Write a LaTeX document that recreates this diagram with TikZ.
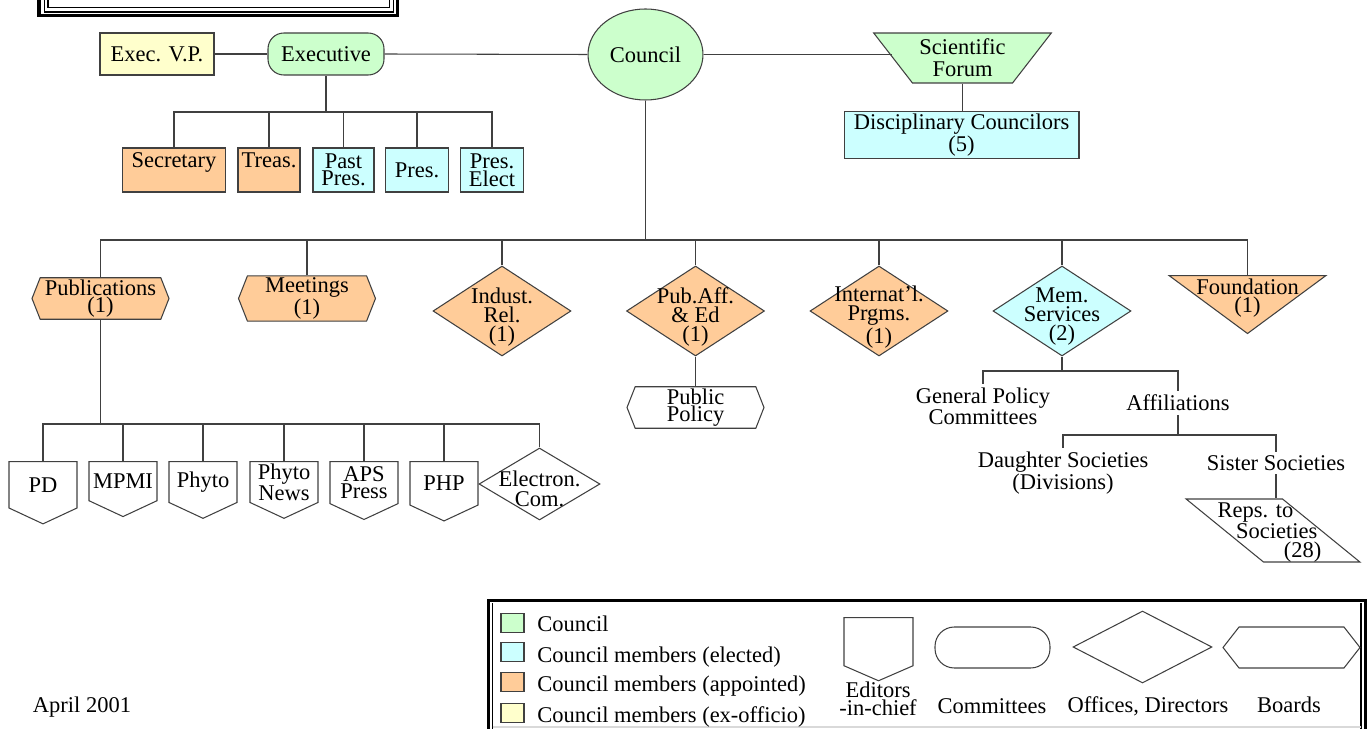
\documentclass[tikz,border=0pt]{standalone}
\usepackage{fontspec}
\setmainfont{Liberation Serif}
\usetikzlibrary{shapes.geometric,shapes.symbols,shapes.misc}
\definecolor{cgreen}{HTML}{CCFFCC}
\definecolor{cblue}{HTML}{CCFFFF}
\definecolor{corange}{HTML}{FFCC99}
\definecolor{cyellow}{HTML}{FFFFCC}
\definecolor{edge}{HTML}{404040}

\begin{document}
\begin{tikzpicture}[x=0.02cm, y=-0.02cm,
    font=\fontsize{12.8}{10}\selectfont,
    orgbox/.style={draw=edge, line width=0.6pt, rectangle, inner sep=1pt,
                   minimum height=0.88cm, align=center},
    hightext/.style={text depth=11pt},
    commbox/.style={draw=edge, line width=0.6pt, rounded corners=9pt,
                    minimum width=2.32cm, minimum height=0.84cm, align=center},
    boardbox/.style={draw=edge, line width=0.6pt, signal,
                     signal to=east and west, signal pointer angle=137,
                     inner sep=1pt, minimum width=2.74cm, minimum height=0.82cm,
                     align=center},
    officebox/.style={draw=edge, line width=0.6pt, diamond, aspect=1.53,
                      inner sep=0pt, minimum width=2.76cm, minimum height=1.8cm},
    editorbox/.style={draw=edge, line width=0.6pt, signal, signal to=south,
                      signal pointer angle=130, inner sep=1pt,
                      minimum width=1.36cm, minimum height=1.08cm, align=center},
    legsq/.style={draw=edge, line width=0.6pt, inner sep=0pt,
                  minimum width=0.46cm, minimum height=0.38cm},
    txt/.style={inner sep=2pt, align=center},
    dtxt/.style={inner sep=0pt, align=center, font=\fontsize{12.8}{10.8}\selectfont},
    conn/.style={draw=edge, line width=0.6pt}]

  \useasboundingbox (0,0) rectangle (1372,729);
  \clip (0,0) rectangle (1372,729);

  %% Title frame (cut off at the top)
  \draw[line width=2pt] (39.2,-10) |- (397.5,15.5) -- (397.5,-10);
  \draw[line width=0.6pt] (44.6,-10) |- (393.5,12) -- (393.5,-10);
  \draw[line width=0.6pt] (48,-10) |- (389.5,7.5) -- (389.5,-10);

  %% Top row
  \node[orgbox, fill=cyellow, minimum width=2.28cm, minimum height=0.84cm]
        (evp) at (157,54) {Exec. V.P.};
  \node[commbox, fill=cgreen] (exec) at (326,54) {Executive};
  \node[draw=edge, line width=0.6pt, ellipse, fill=cgreen, inner sep=0pt,
        minimum width=2.30cm, minimum height=1.82cm]
        (council) at (645.5,54.5) {Council};
  \node[draw=edge, line width=0.6pt, trapezium, shape border rotate=180,
        trapezium left angle=48.7, trapezium right angle=48.7,
        trapezium stretches=true, fill=cgreen, inner sep=0pt,
        minimum width=3.58cm, minimum height=1.0cm, align=center,
        font=\fontsize{12.8}{12.5}\selectfont]
        (forum) at (962.5,58) {Scientific\\Forum};
  \node[orgbox, fill=cblue, minimum width=4.70cm, minimum height=0.92cm]
        (disc) at (961.5,135) {Disciplinary Councilors\\(5)};

  \draw[conn] (evp.east) -- (exec.west);
  \draw[conn] (exec.east) -- (council.west);
  \draw[conn] (council.east) -- (council.east -| forum.west);
  \draw[conn] (forum.south) -- (forum.south |- disc.north);

  %% Executive officers
  \node[orgbox, hightext, fill=corange, minimum width=2.06cm] (secr)  at (174,170)   {Secretary};
  \node[orgbox, hightext, fill=corange, minimum width=1.24cm] (treas) at (269,170)   {Treas.};
  \node[orgbox, fill=cblue, minimum width=1.22cm]             (past)  at (343.5,170) {Past\\Pres.};
  \node[orgbox, fill=cblue, minimum width=1.25cm]             (pres)  at (417,170)   {Pres.};
  \node[orgbox, fill=cblue, minimum width=1.26cm]             (elect) at (492,170)   {Pres.\\Elect};

  \coordinate (eb) at (326,112);
  \draw[conn] (exec.south) -- (eb);
  \foreach \n in {secr,treas,past,pres,elect}
    \draw[conn] (\n.north) |- (eb);

  %% Council branches
  \node[boardbox, fill=corange] (pubs) at (100.5,298.5) {Publications\\(1)};
  \node[boardbox, fill=corange] (meet) at (307,298.5)   {Meetings\\(1)};
  \node[officebox, fill=corange] (indus)  at (502,311)   {};
  \node[officebox, fill=corange] (pubaff) at (695.5,311) {};
  \node[officebox, fill=corange] (intl)   at (879,311)   {};
  \node[officebox, fill=cblue]   (mems)   at (1062,311)  {};
  \node[dtxt] (industxt)  at (502,317)   {Indust.\\Rel.\\(1)};
  \node[dtxt] (pubafftxt) at (695.5,317) {Pub.Aff.\\\& Ed\\(1)};
  \node[dtxt] (intltxt)   at (879,317)   {Internat'l.\\Prgms.\\(1)};
  \node[dtxt] (memstxt)   at (1062,317)  {Mem.\\Services\\(2)};
  \node[draw=edge, line width=0.6pt, isosceles triangle, shape border rotate=270,
        isosceles triangle stretches, fill=corange, inner sep=1pt,
        minimum width=3.14cm, minimum height=1.16cm, anchor=north]
        (found) at (1247.5,275) {};
  \node[txt, inner sep=0pt] (foundtxt) at (1247.5,298) {Foundation\\(1)};

  \coordinate (cb) at (645.5,240);
  \draw[conn] (council.south) -- (cb);
  \foreach \n in {pubs,meet,indus,pubaff,intl,mems,found}
    \draw[conn] (\n.north) |- (cb);

  \node[boardbox, fill=white] (policy) at (695.5,407.5) {Public\\Policy};
  \draw[conn] (pubaff.south) -- (policy.north);

  %% Publications
  \node[editorbox, anchor=north] (pd)    at (43,461)  {PD};
  \node[editorbox, anchor=north] (mpmi)  at (123,461) {MPMI};
  \node[editorbox, anchor=north] (phyto) at (203,461) {Phyto};
  \node[editorbox, anchor=north] (news)  at (284,461) {Phyto\\News};
  \node[editorbox, anchor=north] (aps)   at (364,461) {APS\\Press};
  \node[editorbox, anchor=north] (php)   at (444,461) {PHP};
  \node[officebox, fill=white, aspect=1.68, minimum width=2.42cm,
        minimum height=1.44cm] (elec) at (539.5,484) {};
  \node[dtxt, font=\fontsize{12.8}{11.3}\selectfont] (electxt) at (539.5,489)
        {Electron.\\Com.};

  \coordinate (pb) at (100.5,424);
  \draw[conn] (pubs.south) -- (pb);
  \foreach \n in {pd,mpmi,phyto,news,aps,php,elec}
    \draw[conn] (\n.north) |- (pb);

  %% Member services
  \node[txt] (gpc) at (983,406.5) {General Policy\\Committees};
  \node[txt] (aff) at (1178,403)  {Affiliations};
  \coordinate (mb) at (1062,371);
  \draw[conn] (mems.south) -- (mb);
  \draw[conn] (gpc.north) |- (mb) -| (aff.north);

  \node[txt] (dau) at (1063,473) {Daughter Societies\\(Divisions)};
  \node[txt] (sis) at (1276,463) {Sister Societies};
  \coordinate (ab) at (1178,435);
  \draw[conn] (aff.south) -- (ab);
  \draw[conn] (dau.north) |- (ab) -| (sis.north);

  \node[draw=edge, line width=0.6pt, trapezium, trapezium left angle=139.2,
        trapezium right angle=40.8, trapezium stretches=true, inner sep=2pt,
        minimum width=3.48cm, minimum height=1.26cm]
        (reps) at (1273,530.5) {\strut};
  \node[inner sep=0pt, align=left, font=\fontsize{12.8}{11}\selectfont]
        (repstxt) at (1269.5,532.5)
        {Reps. to\\\hspace*{10.5pt}Societies\\\hspace*{37.7pt}(28)};
  \draw[conn] (sis.south) -- (sis.south |- reps.north);

  %% Legend
  \draw[line width=1.7pt] (488.5,740) |- (1365,600.5) -- (1365,740);
  \draw[line width=0.6pt] (492.5,603) -- (492.5,740);
  \draw[line width=0.6pt] (1361,603) -- (1361,740);
  \draw[black!15, line width=0.6pt] (492.5,727) -- (1361,727);

  \node[legsq, fill=cgreen]  (lsqa) at (512.5,623) {};
  \node[legsq, fill=cblue]   (lsqb) at (512.5,652) {};
  \node[legsq, fill=corange] (lsqc) at (512.5,682) {};
  \node[legsq, fill=cyellow] (lsqd) at (512.5,713) {};
  \node[anchor=west, inner sep=0pt] (ltxa) at (537,624) {Council};
  \node[anchor=west, inner sep=0pt] (ltxb) at (537,657) {Council members (elected)};
  \node[anchor=west, inner sep=0pt] (ltxc) at (537,686) {Council members (appointed)};
  \node[anchor=west, inner sep=0pt] (ltxd) at (537,717) {Council members (ex-officio)};

  \node[editorbox, anchor=north, signal pointer angle=133, minimum width=1.38cm,
        minimum height=0.98cm] (led) at (878.5,617) {};
  \node[commbox, rounded corners=11pt, minimum width=2.30cm, minimum height=0.82cm]
        (lcm) at (992.5,647.5) {};
  \node[officebox, aspect=1.93, minimum width=2.78cm, minimum height=1.44cm]
        (lof) at (1142.5,647) {};
  \node[boardbox, signal pointer angle=104] (lbd) at (1291.5,647.5) {};

  \node[txt, font=\fontsize{12.8}{8.5}\selectfont] (ledt) at (878,699) {Editors\\-in-chief};
  \node[txt] (lcmt) at (992,706)  {Committees};
  \node[txt] (loft) at (1148,706) {Offices, Directors};
  \node[txt] (lbdt) at (1289,705) {Boards};

  \node[txt] (date) at (82,707) {April 2001};
\end{tikzpicture}
\end{document}
